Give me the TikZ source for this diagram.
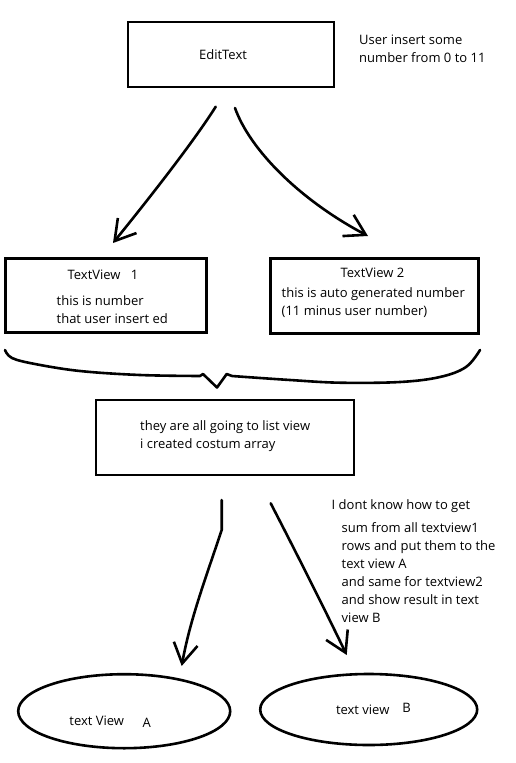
\documentclass[tikz,border=0pt]{standalone}
\usepackage{fontspec}
\setmainfont{Open Sans}
\usetikzlibrary{arrows.meta,shapes.geometric}
\begin{document}
\begin{tikzpicture}[x=1pt,y=-1pt,
  box/.style={draw,line width=2.8pt,inner sep=0pt},
  oval/.style={draw,ellipse,line width=2.6pt,inner sep=0pt},
  txt/.style={font=\fontsize{13}{18}\selectfont,inner sep=0pt},
  arr/.style={line width=2.6pt,line cap=round,line join=round,-{Straight Barb[length=20pt,width=24pt,line width=2.6pt]}},
  stroke/.style={line width=2.6pt,line cap=round,line join=round}]
\useasboundingbox (0,0) rectangle (515,763);
\fill[white] (0,0) rectangle (515,763);
% boxes
\node[box,minimum width=206pt,minimum height=65pt] (edit) at (231,54.5) {};
\node[box,minimum width=201pt,minimum height=74pt] (tv1) at (106.2,295.3) {};
\node[box,minimum width=208pt,minimum height=75pt] (tv2) at (374.8,295.8) {};
\node[box,minimum width=258pt,minimum height=75pt] (list) at (225,437.5) {};
\node[oval,minimum width=212pt,minimum height=74pt] (va) at (124.2,711.2) {};
\node[oval,minimum width=217pt,minimum height=71pt] (vb) at (368.7,709.5) {};
% texts
\node[txt] (t0) at (223,55) {EditText};
\node[txt,anchor=west,align=left] (n0) at (359,49) {User insert some\\number from 0 to 11};
\node[txt] (t1) at (103,275) {TextView\hspace{0.8em}1};
\node[txt,anchor=west,align=left] (t1b) at (56.5,309.5) {this is number\\that user insert ed};
\node[txt] (t2) at (372.5,273) {TextView 2};
\node[txt,anchor=west,align=left] (t2b) at (281.5,302.8) {this is auto generated number\\(11 minus user number)};
\node[txt,anchor=west,align=left] (t3) at (140,436) {they are all going to list view\\i created costum array};
\node[txt,anchor=west] (n1) at (331.5,506) {I dont know how to get};
\node[txt,anchor=west,align=left] (n2) at (341.5,572.5) {sum from all textview1\\rows and put them to the\\text view A\\and same for textview2\\and show result in text\\view B};
\node[txt] (ta) at (96.7,721) {text View};
\node[txt] (taa) at (146.7,723) {A};
\node[txt] (tb) at (362.7,710) {text view};
\node[txt] (tbb) at (406.7,708.3) {B};
% arrow ends
\coordinate (e1) at (215.7,106.7);
\coordinate (e2) at (235,108);
\coordinate (p1) at (113,243);
\coordinate (p2) at (368,236);
\coordinate (l1) at (221.7,500);
\coordinate (l1m) at (221.7,530);
\coordinate (l2) at (270.7,503.3);
\coordinate (qa) at (181.7,666);
\coordinate (qb) at (346.7,655);
% arrows
\draw[arr] (e1) .. controls (198,135) and (160,185) .. (p1);
\draw[arr] (e2) .. controls (250,150) and (300,200) .. (p2);
\draw[arr] (l1) -- (l1m) .. controls (205,580) and (190,620) .. (qa);
\draw[arr] (l2) .. controls (300,560) and (325,610) .. (qb);
% brace
\draw[stroke] plot[smooth,tension=0.6] coordinates{(5,350) (12,358) (35,364) (80,371) (140,375) (200,376)}
  -- (203,374) -- (217,387.5) -- (226.7,374) -- (232,376)
  plot[smooth,tension=0.6] coordinates{(232,376) (290,380) (340,382.7) (400,382) (440,377) (466,367) (480,350)};
\end{tikzpicture}
\end{document}
